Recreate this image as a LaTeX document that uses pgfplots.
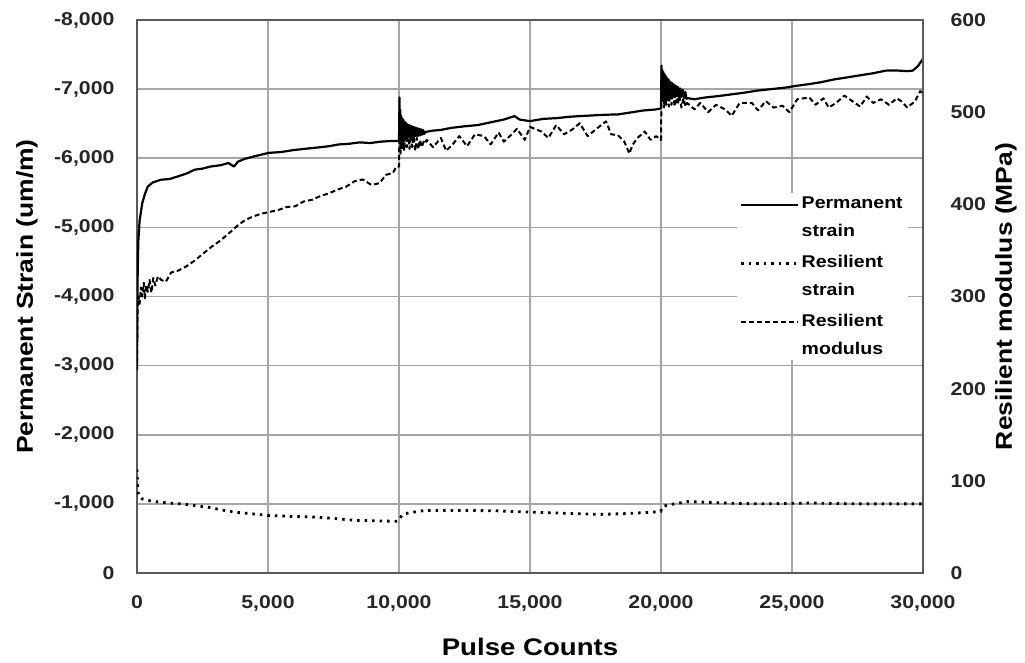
\documentclass[border=0pt]{standalone}
\usepackage{fontspec}
\setmainfont{Liberation Sans}[FakeStretch=1.15]
\usepackage{pgfplots}
\pgfplotsset{compat=1.18}
\begin{document}
\begin{tikzpicture}
\useasboundingbox (-137pt,-89pt) rectangle (888pt,573pt);
\begin{axis}[
  scale only axis, width=786pt, height=553pt,
  xmin=0, xmax=30000, ymin=-8000, ymax=0, y dir=reverse,
  xtick={0,5000,...,30000}, ytick={-8000,-7000,...,0},
  scaled ticks=false,
  /pgf/number format/1000 sep={,},
  /pgf/number format/assume math mode=true,
  grid=major, major grid style={black!35, line width=1.6pt},
  axis line style={black!65, line width=2.6pt},
  tick style={draw=none},
  tick label style={font=\bfseries\fontsize{18.5}{18.5}\selectfont, text=black!85},
  yticklabel style={xshift=-19pt},
  xticklabel style={yshift=-19pt},
  xlabel={Pulse Counts},
  xlabel style={font=\bfseries\fontsize{24}{24}\selectfont, at={(axis description cs:0.5,-0.133)}, anchor=center},
  ylabel={Permanent Strain (um/m)},
  ylabel style={font=\bfseries\fontsize{23}{23}\selectfont, at={(axis description cs:-0.140,0.5)}, anchor=center},
]
% Permanent strain
\addplot[black, line width=2.2pt, line join=round] coordinates {
(0,-3000) (20,-4200) (50,-4800) (100,-5100) (200,-5350) (300,-5480) (410,-5590) (600,-5650)
(923,-5690) (1250,-5700) (1564,-5738) (1900,-5780) (2205,-5835) (2500,-5850) (2800,-5880)
(3200,-5900) (3487,-5932) (3700,-5880) (3850,-5950) (4100,-5990) (4500,-6030) (5026,-6078)
(5500,-6090) (6000,-6120) (6500,-6140) (7000,-6160) (7333,-6175) (7700,-6200) (8100,-6210)
(8500,-6230) (8900,-6220) (9300,-6240) (9700,-6250) (9950,-6250)
(10000,-6250) (10020,-6880) (10035,-6300) (10050,-6700) (10065,-6280) (10080,-6620) (10100,-6290)
(10120,-6580) (10140,-6300) (10165,-6560) (10190,-6280) (10215,-6530) (10240,-6300) (10270,-6510)
(10300,-6290) (10330,-6490) (10360,-6310) (10390,-6480) (10420,-6300) (10455,-6470) (10490,-6310)
(10525,-6460) (10560,-6300) (10600,-6450) (10640,-6320) (10680,-6440) (10720,-6320) (10760,-6430)
(10800,-6330) (10840,-6420) (10880,-6340) (10920,-6410) (10960,-6350) (11000,-6380)
(11300,-6400) (11600,-6410) (12000,-6440) (12513,-6463) (13000,-6480) (13500,-6520) (14000,-6560)
(14412,-6610) (14600,-6560) (15000,-6537) (15500,-6570) (16000,-6580) (16500,-6600) (16896,-6610)
(17400,-6620) (17900,-6630) (18357,-6634) (18800,-6660) (19300,-6690) (19818,-6707) (19980,-6720)
(20000,-6720) (20020,-7340) (20035,-6900) (20050,-7280) (20070,-6880) (20090,-7250) (20110,-6900)
(20130,-7220) (20155,-6880) (20180,-7190) (20205,-6900) (20230,-7160) (20260,-6880) (20290,-7140)
(20320,-6900) (20350,-7110) (20385,-6880) (20420,-7090) (20455,-6900) (20490,-7070) (20530,-6880)
(20570,-7050) (20610,-6900) (20650,-7030) (20690,-6880) (20730,-7010) (20780,-6890) (20830,-6990)
(20880,-6870) (20930,-6960) (20970,-6860) (21000,-6870) (21278,-6854) (21700,-6880) (22200,-6900)
(22739,-6927) (23200,-6950) (23700,-6980)
(24200,-7000) (24700,-7020) (25200,-7050) (25660,-7073) (26100,-7100) (26600,-7140) (27121,-7171)
(27600,-7200) (28100,-7230) (28582,-7268) (29000,-7270) (29400,-7260) (29605,-7268) (29800,-7330)
(30000,-7439)
};
% Resilient strain
\addplot[black, line width=2.8pt, dash pattern=on 2.5pt off 5pt] coordinates {
(0,-1500) (20,-1300) (50,-1150) (100,-1100) (200,-1071) (400,-1050) (700,-1033) (1000,-1020)
(1300,-1010) (1700,-1000) (2200,-975) (2700,-952) (3200,-915) (3700,-881) (4300,-860) (5000,-833)
(5800,-820) (6700,-810) (7500,-790) (8300,-762) (9100,-755) (9900,-748) (10000,-760) (10100,-830)
(10200,-857) (10400,-870) (10700,-890) (11000,-905) (11700,-905) (12700,-905) (13700,-900)
(14700,-885) (15700,-871) (16700,-860) (17700,-848) (18700,-860) (19700,-881) (19990,-890)
(20050,-960) (20200,-976) (20500,-1000) (21000,-1033) (21700,-1024) (22700,-1010) (23700,-1000)
(24700,-1005) (25700,-1014) (26700,-1005) (27700,-1000) (28700,-1000) (30000,-1000)
};
\end{axis}
\begin{axis}[
  scale only axis, width=786pt, height=553pt,
  xmin=0, xmax=30000, ymin=0, ymax=600,
  axis y line*=right, axis x line=none,
  ytick={0,100,...,600},
  /pgf/number format/assume math mode=true,
  axis line style={black!65, line width=2.6pt},
  tick style={draw=none},
  tick label style={font=\bfseries\fontsize{18.5}{18.5}\selectfont, text=black!85},
  yticklabel style={xshift=24pt},
  ylabel={Resilient modulus (MPa)},
  ylabel style={font=\bfseries\fontsize{23}{23}\selectfont, at={(axis description cs:1.1056,0.5)}, anchor=center},
  legend image code/.code={\draw[#1] (0pt,13pt) -- (57pt,13pt);},
  legend cell align=left,
  legend style={at={(axis description cs:0.763,0.687)}, anchor=north west, draw=none, fill=white,
    font=\bfseries\fontsize{17}{28}\selectfont, cells={align=left}, row sep=13pt},
]
\addlegendimage{black, line width=2.2pt}
\addlegendentry{Permanent\\strain}
\addlegendimage{black, line width=2.8pt, dash pattern=on 2.5pt off 5pt}
\addlegendentry{Resilient\\strain}
\addplot[black, line width=2pt, dash pattern=on 5pt off 3pt, line join=round] coordinates {
(0,220) (15,270) (26,288) (60,300) (100,292) (150,310) (200,300) (260,315) (300,298) (360,312)
(410,305) (480,318) (550,304) (620,320) (700,312) (800,322) (923,318) (1100,316) (1300,326)
(1564,328) (1900,333) (2205,339) (2500,346) (2846,354) (3150,360) (3487,368) (3800,376)
(4128,383) (4450,387) (4769,390) (5100,392) (5410,394) (5700,397) (6051,398) (6350,403)
(6692,405) (7000,409) (7333,412) (7650,416) (7974,419) (8300,425) (8615,427) (8950,421)
(9256,423) (9500,432) (9769,434) (9897,441)
(10000,441) (10030,500) (10060,455) (10090,490) (10120,460) (10160,485) (10200,458) (10250,480)
(10300,462) (10350,478) (10400,460) (10450,475) (10500,462) (10560,474) (10620,458) (10680,472)
(10740,460) (10800,470) (10870,462) (10940,468) (11000,466)
(11052,470) (11300,462) (11600,472) (11800,458) (12075,466) (12300,474) (12600,463) (12900,476)
(13244,474) (13500,465) (13800,478) (14000,468) (14266,475) (14500,482) (14800,470) (15000,484)
(15435,479) (15700,472) (16000,486) (16300,476) (16604,481) (16900,488) (17200,474) (17627,484)
(17900,490) (18100,476) (18357,475) (18600,468) (18796,455) (18900,464) (19100,472) (19380,479)
(19600,470) (19818,474) (19980,470)
(20000,470) (20030,545) (20060,510) (20090,535) (20120,505) (20160,530) (20200,508) (20250,528)
(20300,506) (20350,524) (20400,508) (20460,522) (20520,506) (20580,520) (20640,508) (20700,518)
(20780,505) (20860,515) (20940,506) (21000,510)
(21278,503) (21500,510) (21800,500) (22100,508) (22447,503) (22700,496) (23000,510) (23470,510)
(23700,502) (24000,512) (24300,505) (24638,507) (24900,500) (25200,514) (25660,516) (25900,508)
(26200,515) (26400,505) (26683,510) (27000,518) (27300,512) (27600,506) (27852,517) (28100,510)
(28400,514) (28700,508) (29000,515) (29167,512) (29400,505) (29700,512) (29897,523) (30000,520)
};
\addlegendentry{Resilient\\modulus}
\end{axis}
\end{tikzpicture}
\end{document}
